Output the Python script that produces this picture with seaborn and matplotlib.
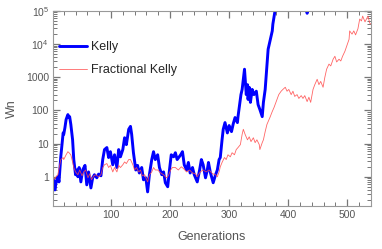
import math
import matplotlib
matplotlib.use("Agg")
import matplotlib.pyplot as plt
import matplotlib.ticker as mticker
import seaborn as sns

# Kelly: generation / wealth
kelly_gen = [3, 5, 7, 10, 12, 15, 19, 20, 22, 24, 27, 29, 30, 32, 35, 37, 40, 42, 44, 46,
             49, 52, 56, 59, 62, 66, 69, 72, 76, 79, 83, 86, 89, 93, 96, 99, 103, 106, 110, 113,
             116, 120, 123, 126, 130, 133, 135, 138, 142, 145, 148, 152, 155, 159, 162, 165, 169, 172, 175, 179,
             182, 186, 189, 192, 196, 199, 202, 206, 209, 212, 218, 221, 224, 228, 231, 234, 238, 241, 246, 250,
             253, 256, 260, 263, 265, 268, 273, 277, 280, 283, 285, 288, 290, 293, 297, 300, 304, 307, 310, 314,
             315, 319, 320, 322, 324, 326, 327, 329, 331, 332, 334, 336, 339, 342, 346, 349, 352, 356, 358, 361,
             364, 366, 369, 373, 374, 378, 390, 420, 430, 432, 434, 450, 540]
kelly_w = [0.81, 0.40, 0.66, 1.0, 0.7, 4.0, 21, 19, 30, 53, 75, 62, 65, 38, 13, 3.3, 1.15, 1.6, 1.0, 1.9,
           0.7, 1.6, 2.2, 0.57, 1.4, 0.46, 0.93, 1.15, 0.93, 1.2, 1.07, 3.3, 6.6, 7.6, 3.8, 5.7, 2.3, 4.6, 1.9, 6.6,
           4.0, 6.6, 15, 9.3, 27, 33, 19, 5.3, 1.6, 2.2, 1.3, 1.9, 0.81, 0.93, 0.35, 1.15, 3.3, 5.7, 3.3, 4.6,
           1.9, 1.15, 1.4, 0.66, 0.50, 1.6, 4.6, 4.0, 5.3, 3.3, 4.6, 5.7, 2.3, 1.6, 2.7, 1.3, 1.9, 1.15, 0.7, 1.6,
           3.3, 2.3, 0.93, 1.6, 2.7, 1.4, 0.66, 1.15, 1.6, 3.3, 3.8, 13, 27, 43, 21, 35, 23, 40, 61, 43,
           65, 215, 300, 430, 870, 1750, 1000, 300, 600, 215, 500, 175, 430, 300, 380, 150, 107, 65, 175, 430,
           2200, 7000, 12000, 25000, 40000, 110000, 5e5, 1e6, 3e5, 8.5e4, 3e5, 1e6, 1e7]

# Fractional Kelly
frac_gen = [3, 7, 10, 15, 19, 20, 24, 27, 29, 32, 35, 37, 40, 44, 47, 51, 54, 57, 61, 64,
            67, 71, 74, 79, 83, 86, 89, 93, 96, 99, 103, 106, 110, 113, 116, 120, 123, 126, 130, 133,
            137, 140, 143, 147, 150, 153, 157, 162, 165, 169, 172, 175, 179, 184, 189, 194, 197, 201, 204, 209,
            214, 219, 223, 228, 233, 238, 243, 246, 251, 256, 261, 266, 272, 277, 280, 283, 285, 288, 292, 295,
            298, 302, 305, 309, 312, 315, 319, 322, 324, 327, 331, 334, 337, 341, 344, 347, 351, 352, 356, 358,
            361, 364, 369, 373, 376, 381, 384, 388, 391, 395, 398, 401, 405, 408, 411, 415, 418, 422, 425, 428,
            432, 435, 438, 442, 445, 449, 452, 455, 459, 462, 465, 469, 472, 476, 479, 482, 486, 489, 492, 496,
            499, 503, 504, 508, 511, 514, 518, 521, 524, 526, 530, 533, 535, 538, 540]
frac_w = [0.81, 1.0, 1.15, 3.3, 3.8, 3.3, 4.6, 5.7, 5.3, 4.6, 2.8, 1.9, 1.4, 1.15, 1.6, 1.07, 1.4, 1.6, 0.93, 1.23,
          0.81, 1.07, 1.15, 1.0, 1.15, 1.9, 2.3, 2.5, 1.9, 2.2, 1.4, 1.9, 1.4, 2.2, 1.9, 2.3, 2.8, 2.5, 3.3, 3.3,
          2.3, 1.6, 1.9, 1.4, 1.6, 1.07, 1.15, 0.7, 1.15, 1.4, 1.9, 1.6, 1.6, 1.3, 1.15, 0.93, 1.07, 1.6, 1.9, 1.9,
          1.6, 2.0, 1.75, 1.4, 1.6, 1.3, 1.23, 1.0, 1.4, 1.6, 1.4, 1.6, 1.23, 1.15, 1.0, 1.4, 2.0, 2.7, 3.8, 3.3,
          4.6, 4.0, 5.3, 4.6, 6.6, 7.6, 9.3, 19, 27, 19, 13, 16, 11.5, 15, 10.7, 13, 9.3, 6.6, 10.7, 13,
          23, 38, 61, 93, 123, 215, 300, 380, 430, 500, 380, 430, 300, 380, 265, 300, 230, 280, 230, 280,
          185, 250, 175, 430, 600, 870, 600, 750, 500, 1000, 1750, 2500, 2200, 3500, 4300, 2900, 3500, 3100, 4300, 6100,
          8700, 14000, 25000, 20000, 25000, 19000, 29000, 57000, 50000, 70000, 47000, 60000, 70000, 43000, 40000]

sns.set_theme(style="ticks")
plt.rcParams["font.family"] = ["Liberation Sans", "DejaVu Sans"]

fig = plt.figure(figsize=(3.82, 2.49), dpi=100)
ax = fig.add_axes([0.139, 0.173, 0.832, 0.783])

sns.lineplot(x=kelly_gen, y=kelly_w, ax=ax, color="#0000ff", linewidth=2.1,
             label="Kelly", estimator=None, sort=False)
sns.lineplot(x=frac_gen, y=frac_w, ax=ax, color="#ff4a4a", linewidth=0.6, alpha=0.85,
             label="Fractional Kelly", estimator=None, sort=False)

ax.set_yscale("log")
ax.set_xlim(2, 540)
ax.set_ylim(0.132, 1e5)

ax.xaxis.set_major_locator(mticker.MultipleLocator(100))
ax.xaxis.set_minor_locator(mticker.MultipleLocator(20))
ax.yaxis.set_major_locator(mticker.LogLocator(base=10, numticks=10))
ax.yaxis.set_minor_locator(mticker.LogLocator(base=10, subs=range(2, 10), numticks=10))


def ylab(v, pos):
    if v <= 1000:
        return f"{v:g}"
    return r"$\mathregular{10^{%d}}$" % round(math.log10(v))


ax.yaxis.set_major_formatter(mticker.FuncFormatter(ylab))
ax.yaxis.set_minor_formatter(mticker.NullFormatter())

for s in ax.spines.values():
    s.set_visible(True)
    s.set_color("#999999")
    s.set_linewidth(0.8)
ax.tick_params(which="both", direction="in", bottom=True, top=True, left=True, right=True,
               colors="#777777", labelcolor="#555555", labelsize=7.5, pad=3)
ax.tick_params(which="major", length=5, width=0.9)
ax.tick_params(which="minor", length=3, width=0.7)

ax.set_xlabel("Generations", fontsize=9, color="#555555", labelpad=8)
ax.set_ylabel("Wn", fontsize=9, color="#555555", labelpad=6)

ax.legend(loc="upper left", bbox_to_anchor=(0.02, 0.845), frameon=False, fontsize=9,
          handlelength=2.2, handletextpad=0.3, labelspacing=0.9, borderaxespad=0, borderpad=0)

fig.savefig("out.png", dpi=100)
